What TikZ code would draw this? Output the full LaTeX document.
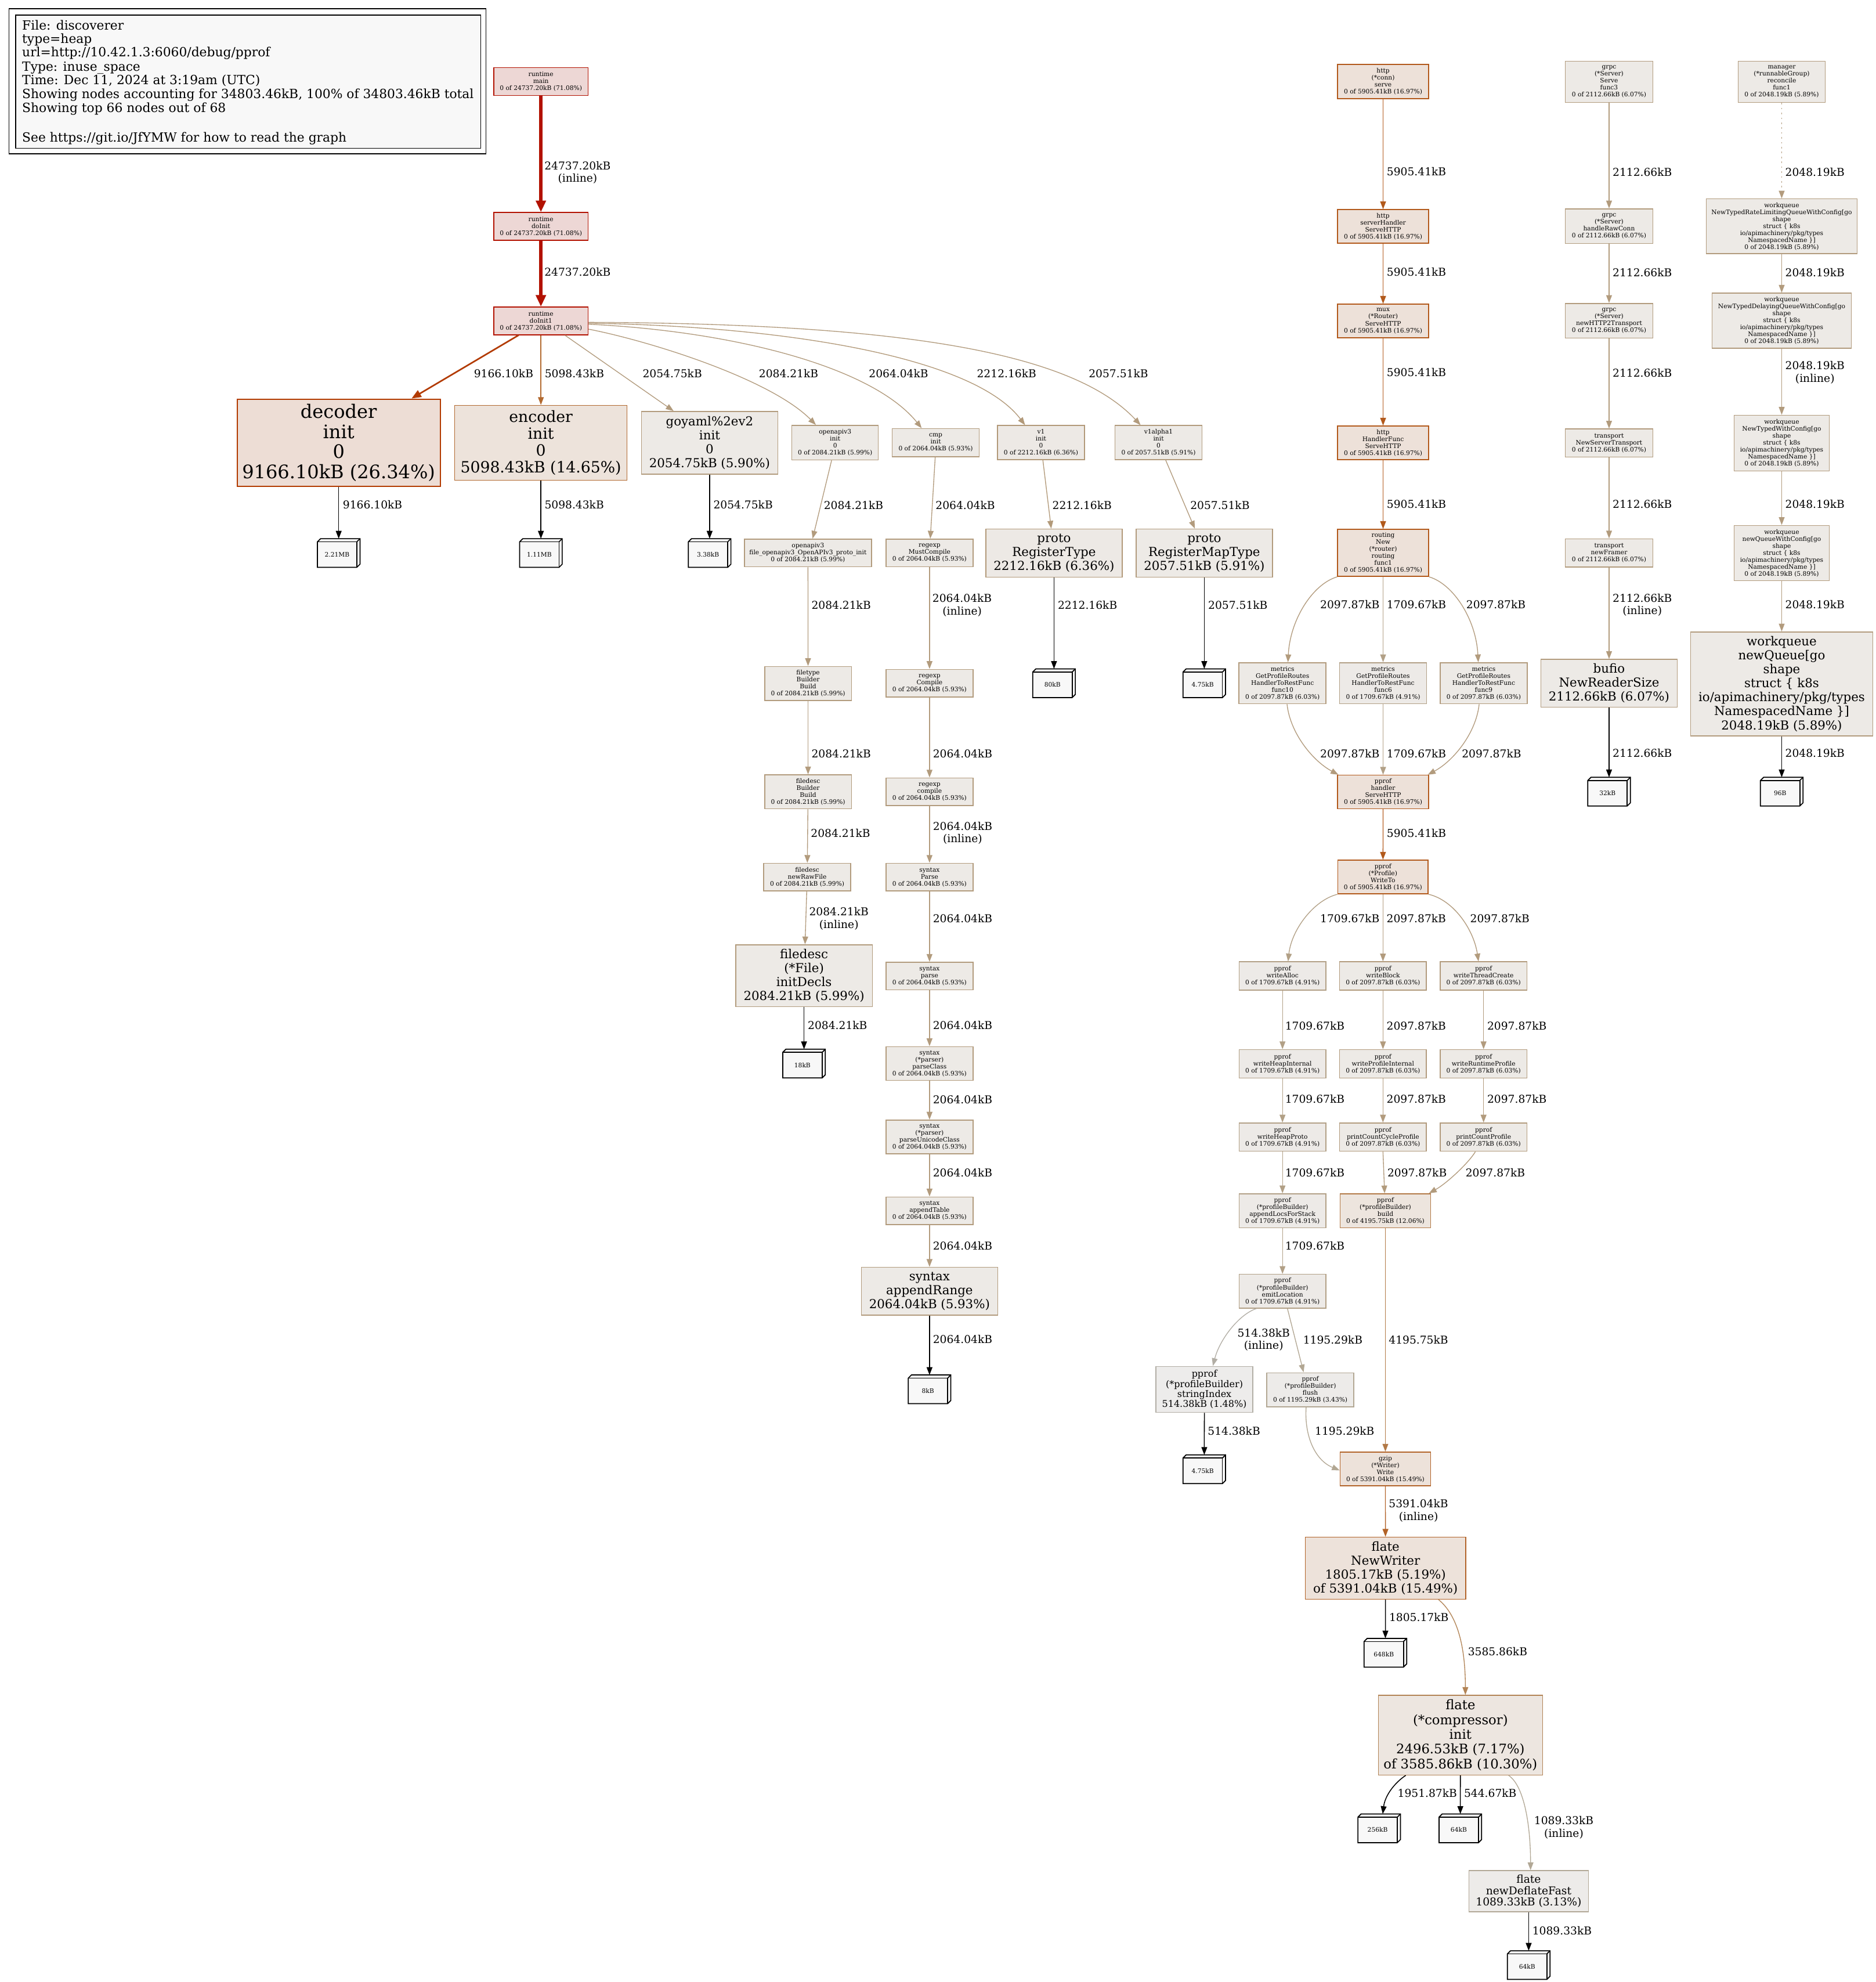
\documentclass[tikz,border=0pt]{standalone}
\usepackage{fontspec}
\setmainfont{DejaVu Serif}
\usetikzlibrary{arrows.meta,calc}
\definecolor{rtfill}{HTML}{EDD7D5}\definecolor{rtline}{HTML}{B21100}
\definecolor{dcfill}{HTML}{EDDDD5}\definecolor{dcline}{HTML}{B23A00}
\definecolor{ecfill}{HTML}{EDE3DB}\definecolor{ecline}{HTML}{B2692F}
\definecolor{sxfill}{HTML}{EDEAE6}\definecolor{sxline}{HTML}{B29B7D}
\definecolor{vofill}{HTML}{EDE9E5}\definecolor{voline}{HTML}{B29979}
\definecolor{hpfill}{HTML}{EDEAE7}\definecolor{hpline}{HTML}{B2A086}
\definecolor{flfill}{HTML}{EDEBE9}\definecolor{flline}{HTML}{B2A793}
\definecolor{dffill}{HTML}{EDEBE9}\definecolor{dfline}{HTML}{B2A896}
\definecolor{sifill}{HTML}{EDECEB}\definecolor{siline}{HTML}{B2AEA5}
\definecolor{htfill}{HTML}{EDE1D9}\definecolor{htline}{HTML}{B2591B}
\definecolor{gzfill}{HTML}{EDE2DA}\definecolor{gzline}{HTML}{B26328}
\definecolor{bdfill}{HTML}{EDE5DE}\definecolor{bdline}{HTML}{B27946}
\definecolor{cpfill}{HTML}{EDE6E0}\definecolor{cpline}{HTML}{B28456}
\definecolor{cubefill}{HTML}{F8F8F8}
\definecolor{legfill}{HTML}{F8F8F8}
\tikzset{
  gnode/.style={rectangle, draw, line width=0.4pt, inner sep=0pt, align=center},
  sz/.style 2 args={minimum width=#1*0.02cm, minimum height=#2*0.02cm},
  rt/.style={gnode, fill=rtfill, draw=rtline},
  dc/.style={gnode, fill=dcfill, draw=dcline, line width=0.55pt},
  ec/.style={gnode, fill=ecfill, draw=ecline},
  sx/.style={gnode, fill=sxfill, draw=sxline},
  vo/.style={gnode, fill=vofill, draw=voline},
  hp/.style={gnode, fill=hpfill, draw=hpline},
  fl/.style={gnode, fill=flfill, draw=flline},
  df/.style={gnode, fill=dffill, draw=dfline},
  si/.style={gnode, fill=sifill, draw=siline},
  ht/.style={gnode, fill=htfill, draw=htline},
  gz/.style={gnode, fill=gzfill, draw=gzline},
  bd/.style={gnode, fill=bdfill, draw=bdline},
  cp/.style={gnode, fill=cpfill, draw=cpline},
  sm/.style={font=\fontsize{2.79}{3.14}\selectfont},
  fA/.style={font=\fontsize{8.37}{9.0}\selectfont},
  fB/.style={font=\fontsize{6.97}{7.57}\selectfont},
  fC/.style={font=\fontsize{5.93}{6.62}\selectfont},
  fD/.style={font=\fontsize{5.58}{6.3}\selectfont},
  fE/.style={font=\fontsize{4.88}{5.09}\selectfont},
  fF/.style={font=\fontsize{4.18}{4.53}\selectfont},
  elab/.style={font=\fontsize{4.88}{5.66}\selectfont, align=center, inner sep=0pt},
  lgd/.style={font=\fontsize{5.7}{6.34}\selectfont, inner sep=0pt, anchor=base west},
  lgbox/.style={rectangle, draw=black, line width=0.35pt, inner sep=0pt},
  edg/.style={draw=#1, line width=0.35pt, -{Triangle[length=3.5pt,width=2.6pt]}},
  leaf/.style={draw=black, line width=0.4pt, -{Triangle[length=3.5pt,width=2.6pt]}},
  cubebb/.style={rectangle, inner sep=0pt, minimum width=0.66cm, minimum height=0.44cm},
  cubeline/.style={draw=black, line width=0.45pt, fill=cubefill},
  cubetext/.style={font=\fontsize{2.79}{3.14}\selectfont, inner sep=0pt},
}
\newcommand\cubenode[4]{%
  \node[cubebb] (#1) at (#2,#3) {};
  \filldraw[cubeline] ($(#1.north west)+(0,2.5)$) -- ($(#1.north west)+(2.5,0)$) -- (#1.north east) -- ($(#1.south east)+(0,-2.5)$) -- ($(#1.south east)+(-2.5,0)$) -- (#1.south west) -- cycle;
  \draw[cubeline, fill=none] ($(#1.north west)+(0,2.5)$) -- ($(#1.north east)+(-2.5,2.5)$) -- ($(#1.south east)+(-2.5,0)$);
  \draw[cubeline, fill=none] ($(#1.north east)+(-2.5,2.5)$) -- (#1.north east);
  \node[cubetext] (#1t) at ($(#1.center)+(-1.25,1.25)$) {#4};
}
\begin{document}
\begin{tikzpicture}[x=0.02cm,y=-0.02cm]
\useasboundingbox (0,0) rectangle (1484,1568);
\fill[white] (0,0) rectangle (1484,1568);
% legend
\node[lgbox, sz={377.4}{114.8}] (legendouter) at (195.7,64.3) {};
\node[lgbox, fill=legfill, sz={367.9}{105.5}] (legend) at (196.35,64.65) {};
\node[lgd] (lg1) at (17.2,23.5) {File: discoverer};
\node[lgd] (lg2) at (17.2,34.2) {type=heap};
\node[lgd] (lg3) at (17.2,44.9) {url=http://10.42.1.3:6060/debug/pprof};
\node[lgd] (lg4) at (17.2,56.1) {Type: inuse\_space};
\node[lgd] (lg5) at (17.2,66.8) {Time: Dec 11, 2024 at 3:19am (UTC)};
\node[lgd] (lg6) at (17.2,77.9) {Showing nodes accounting for 34803.46kB, 100\% of 34803.46kB total};
\node[lgd] (lg7) at (17.2,88.9) {Showing top 66 nodes out of 68};
\node[lgd] (lg8) at (17.2,112.3) {See https://git.io/JfYMW for how to read the graph};

% runtime + init row
\node[rt, sm, sz={74.7}{21.9}] (rmain) at (428,64.5) {runtime\\main\\0 of 24737.20kB (71.08\%)};
\node[rt, sm, sz={74.7}{21.9}] (rdoinit) at (428,179.1) {runtime\\doInit\\0 of 24737.20kB (71.08\%)};
\node[rt, sm, sz={74.7}{21.9}] (rdoinit1) at (428,253.9) {runtime\\doInit1\\0 of 24737.20kB (71.08\%)};
\node[dc, fA, sz={160.7}{69}] (decoder) at (268,350.2) {decoder\\init\\0\\9166.10kB (26.34\%)};
\node[ec, fB, sz={136.4}{59.2}] (encoder) at (428,350.3) {encoder\\init\\0\\5098.43kB (14.65\%)};
\node[sx, fD, sz={107.9}{49.6}] (goyaml) at (561.5,350.3) {goyaml\%2ev2\\init\\0\\2054.75kB (5.90\%)};
\node[sx, sm, sz={68.4}{27.4}] (openapiinit) at (660.8,350.2) {openapiv3\\init\\0\\0 of 2084.21kB (5.99\%)};
\node[sx, sm, sz={68.9}{22.2}] (cmpinit) at (740.4,350.2) {cmp\\init\\0 of 2064.04kB (5.93\%)};
\node[vo, sm, sz={68.7}{27.1}] (v1init) at (823.7,350.2) {v1\\init\\0\\0 of 2212.16kB (6.36\%)};
\node[sx, sm, sz={68.9}{27.1}] (v1a1init) at (916.7,350.2) {v1alpha1\\init\\0\\0 of 2057.51kB (5.91\%)};
\cubenode{c221}{268}{437.5}{2.21MB}
\cubenode{c111}{428}{437.5}{1.11MB}
\cubenode{c338}{561.5}{437.5}{3.38kB}
\node[sx, sm, sz={100.6}{21.9}] (fileoapi) at (639.3,437.4) {openapiv3\\file\_openapiv3\_OpenAPIv3\_proto\_init\\0 of 2084.21kB (5.99\%)};
\node[sx, sm, sz={68.9}{21.9}] (mustcompile) at (735.5,437.4) {regexp\\MustCompile\\0 of 2064.04kB (5.93\%)};
\node[vo, fD, sz={107.9}{38.1}] (regtype) at (834,437.6) {proto\\RegisterType\\2212.16kB (6.36\%)};
\node[sx, fD, sz={108}{38.1}] (regmap) at (952.9,437.6) {proto\\RegisterMapType\\2057.51kB (5.91\%)};
\cubenode{c80}{834}{540.5}{80kB}
\cubenode{c475a}{952.9}{540.5}{4.75kB}
\node[sx, sm, sz={68.6}{26.9}] (filetype) at (639.4,540.7) {filetype\\Builder\\Build\\0 of 2084.21kB (5.99\%)};
\node[sx, sm, sz={68.9}{21.9}] (compile) at (735.5,540.5) {regexp\\Compile\\0 of 2064.04kB (5.93\%)};
\node[sx, sm, sz={68.6}{26.9}] (fdbuild) at (639.4,626.4) {filedesc\\Builder\\Build\\0 of 2084.21kB (5.99\%)};
\node[sx, sm, sz={68.9}{21.9}] (compilel) at (735.5,626.4) {regexp\\compile\\0 of 2064.04kB (5.93\%)};
\node[sx, sm, sz={68.7}{21.9}] (rawfile) at (638.7,693.9) {filedesc\\newRawFile\\0 of 2084.21kB (5.99\%)};
\node[sx, sm, sz={68.9}{21.9}] (sparse) at (735.5,693.9) {syntax\\Parse\\0 of 2064.04kB (5.93\%)};
\node[sx, fD, sz={108.1}{49}] (initdecls) at (636.2,771.9) {filedesc\\(*File)\\initDecls\\2084.21kB (5.99\%)};
\node[sx, sm, sz={68.9}{21.9}] (sparsel) at (735.5,772.2) {syntax\\parse\\0 of 2064.04kB (5.93\%)};
\cubenode{c18}{636.2}{841.4}{18kB}
\node[sx, sm, sz={68.9}{26.8}] (parseclass) at (735.5,841.4) {syntax\\(*parser)\\parseClass\\0 of 2064.04kB (5.93\%)};
\node[sx, sm, sz={68.9}{26.8}] (parseuni) at (735.5,899.5) {syntax\\(*parser)\\parseUnicodeClass\\0 of 2064.04kB (5.93\%)};
\node[sx, sm, sz={68.9}{21.8}] (appendtable) at (735.5,957.8) {syntax\\appendTable\\0 of 2064.04kB (5.93\%)};
\node[sx, fD, sz={107.9}{37.8}] (appendrange) at (735.5,1021.5) {syntax\\appendRange\\2064.04kB (5.93\%)};
\cubenode{c8}{735.5}{1099.1}{8kB}

% http column
\node[ht, sm, sz={72}{27}] (conn) at (1094.4,64.5) {http\\(*conn)\\serve\\0 of 5905.41kB (16.97\%)};
\node[ht, sm, sz={72}{26.5}] (srvhandler) at (1094.4,179.1) {http\\serverHandler\\ServeHTTP\\0 of 5905.41kB (16.97\%)};
\node[ht, sm, sz={72}{26.5}] (mux) at (1094.4,253.9) {mux\\(*Router)\\ServeHTTP\\0 of 5905.41kB (16.97\%)};
\node[ht, sm, sz={72}{26.5}] (handlerfunc) at (1094.4,350.3) {http\\HandlerFunc\\ServeHTTP\\0 of 5905.41kB (16.97\%)};
\node[ht, sm, sz={72}{37.2}] (routing) at (1094.4,437.4) {routing\\New\\(*router)\\routing\\func1\\0 of 5905.41kB (16.97\%)};
\node[sx, sm, sz={68.9}{32.5}] (func10) at (1014.8,540.5) {metrics\\GetProfileRoutes\\HandlerToRestFunc\\func10\\0 of 2097.87kB (6.03\%)};
\node[hp, sm, sz={68.9}{32.5}] (func6) at (1094.4,540.5) {metrics\\GetProfileRoutes\\HandlerToRestFunc\\func6\\0 of 1709.67kB (4.91\%)};
\node[sx, sm, sz={68.9}{32.5}] (func9) at (1174,540.5) {metrics\\GetProfileRoutes\\HandlerToRestFunc\\func9\\0 of 2097.87kB (6.03\%)};
\node[ht, sm, sz={72}{26.5}] (handler) at (1094.4,626.5) {pprof\\handler\\ServeHTTP\\0 of 5905.41kB (16.97\%)};
\node[ht, sm, sz={71.5}{26.7}] (writeto) at (1094.3,693.8) {pprof\\(*Profile)\\WriteTo\\0 of 5905.41kB (16.97\%)};
\node[hp, sm, sz={68.7}{22.4}] (writealloc) at (1014.8,772.1) {pprof\\writeAlloc\\0 of 1709.67kB (4.91\%)};
\node[sx, sm, sz={68.7}{22.4}] (writeblock) at (1094.3,772.1) {pprof\\writeBlock\\0 of 2097.87kB (6.03\%)};
\node[sx, sm, sz={68.7}{22.4}] (writethread) at (1173.9,772.1) {pprof\\writeThreadCreate\\0 of 2097.87kB (6.03\%)};
\node[hp, sm, sz={68.7}{22.4}] (heapinternal) at (1014.8,841.6) {pprof\\writeHeapInternal\\0 of 1709.67kB (4.91\%)};
\node[sx, sm, sz={68.7}{22.4}] (profinternal) at (1094.3,841.6) {pprof\\writeProfileInternal\\0 of 2097.87kB (6.03\%)};
\node[sx, sm, sz={68.7}{22.4}] (runtimeprof) at (1173.9,841.6) {pprof\\writeRuntimeProfile\\0 of 2097.87kB (6.03\%)};
\node[hp, sm, sz={68.7}{22.4}] (heapproto) at (1014.8,899.6) {pprof\\writeHeapProto\\0 of 1709.67kB (4.91\%)};
\node[sx, sm, sz={68.7}{22.4}] (cycleprof) at (1094.3,899.6) {pprof\\printCountCycleProfile\\0 of 2097.87kB (6.03\%)};
\node[sx, sm, sz={68.7}{22.4}] (countprof) at (1173.9,899.6) {pprof\\printCountProfile\\0 of 2097.87kB (6.03\%)};
\node[hp, sm, sz={68.7}{27}] (appendlocs) at (1014.8,957.9) {pprof\\(*profileBuilder)\\appendLocsForStack\\0 of 1709.67kB (4.91\%)};
\node[bd, sm, sz={71.6}{27}] (build) at (1096.2,957.9) {pprof\\(*profileBuilder)\\build\\0 of 4195.75kB (12.06\%)};
\node[hp, sm, sz={68.7}{26.7}] (emitloc) at (1014.8,1021.5) {pprof\\(*profileBuilder)\\emitLocation\\0 of 1709.67kB (4.91\%)};
\node[si, fF, sz={76.7}{36.4}] (stringindex) at (953,1099.2) {pprof\\(*profileBuilder)\\stringIndex\\514.38kB (1.48\%)};
\node[fl, sm, sz={68.9}{27}] (flush) at (1036.8,1099.5) {pprof\\(*profileBuilder)\\flush\\0 of 1195.29kB (3.43\%)};
\cubenode{c475b}{952.9}{1162.3}{4.75kB}
\node[gz, sm, sz={71.6}{26.7}] (gzipw) at (1096.2,1162.1) {gzip\\(*Writer)\\Write\\0 of 5391.04kB (15.49\%)};
\node[gz, fD, sz={126.8}{49}] (newwriter) at (1096.3,1240.6) {flate\\NewWriter\\1805.17kB (5.19\%)\\of 5391.04kB (15.49\%)};
\cubenode{c648}{1096.2}{1307.5}{648kB}
\node[cp, fC, sz={130}{63}] (compressor) at (1155.6,1372.7) {flate\\(*compressor)\\init\\2496.53kB (7.17\%)\\of 3585.86kB (10.30\%)};
\cubenode{c256}{1091.3}{1446.4}{256kB}
\cubenode{c64a}{1155.5}{1446.4}{64kB}
\node[df, fE, sz={94.6}{32.5}] (deflatefast) at (1209.6,1496.1) {flate\\newDeflateFast\\1089.33kB (3.13\%)};
\cubenode{c64b}{1209.6}{1554.6}{64kB}

% grpc column
\node[sx, sm, sz={69.2}{32.7}] (grpcserve) at (1273.2,64.7) {grpc\\(*Server)\\Serve\\func3\\0 of 2112.66kB (6.07\%)};
\node[sx, sm, sz={69.2}{27.3}] (rawconn) at (1273.2,178.9) {grpc\\(*Server)\\handleRawConn\\0 of 2112.66kB (6.07\%)};
\node[sx, sm, sz={69.2}{27.3}] (http2) at (1273.2,253.7) {grpc\\(*Server)\\newHTTP2Transport\\0 of 2112.66kB (6.07\%)};
\node[sx, sm, sz={69.2}{22.2}] (srvtransport) at (1273.2,350.5) {transport\\NewServerTransport\\0 of 2112.66kB (6.07\%)};
\node[sx, sm, sz={69.2}{22.2}] (framer) at (1273.2,437.4) {transport\\newFramer\\0 of 2112.66kB (6.07\%)};
\node[sx, fD, sz={108}{37.8}] (bufio) at (1273.2,540.6) {bufio\\NewReaderSize\\2112.66kB (6.07\%)};
\cubenode{c32}{1273.2}{626.3}{32kB}

% workqueue column
\node[sx, sm, sz={69}{32.7}] (manager) at (1409.8,64.7) {manager\\(*runnableGroup)\\reconcile\\func1\\0 of 2048.19kB (5.89\%)};
\node[sx, sm, sz={119.5}{43.3}] (ratelimit) at (1409.8,179) {workqueue\\NewTypedRateLimitingQueueWithConfig[go\\shape\\struct \{ k8s\\io/apimachinery/pkg/types\\NamespacedName \}]\\0 of 2048.19kB (5.89\%)};
\node[sx, sm, sz={110.3}{43.6}] (delaying) at (1409.8,253.7) {workqueue\\NewTypedDelayingQueueWithConfig[go\\shape\\struct \{ k8s\\io/apimachinery/pkg/types\\NamespacedName \}]\\0 of 2048.19kB (5.89\%)};
\node[sx, sm, sz={75.3}{44.1}] (typedcfg) at (1409.8,350.5) {workqueue\\NewTypedWithConfig[go\\shape\\struct \{ k8s\\io/apimachinery/pkg/types\\NamespacedName \}]\\0 of 2048.19kB (5.89\%)};
\node[sx, sm, sz={75.3}{43.7}] (newqcfg) at (1409.8,437.5) {workqueue\\newQueueWithConfig[go\\shape\\struct \{ k8s\\io/apimachinery/pkg/types\\NamespacedName \}]\\0 of 2048.19kB (5.89\%)};
\node[sx, fD, sz={144}{82.2}] (newqueue) at (1409.8,541) {workqueue\\newQueue[go\\shape\\struct \{ k8s\\io/apimachinery/pkg/types\\NamespacedName \}]\\2048.19kB (5.89\%)};
\cubenode{c96}{1409.8}{626.3}{96B}

% ---- edges ----
\draw[edg=rtline, line width=1.4pt, -{Triangle[length=5.2pt,width=4.4pt]}] (rmain) -- (rdoinit);
\draw[edg=rtline, line width=1.4pt, -{Triangle[length=5.2pt,width=4.4pt]}] (rdoinit) -- (rdoinit1);
\draw[edg=dcline, line width=0.7pt, -{Triangle[length=4.3pt,width=3.4pt]}] ($(rdoinit1.south)+(-17.7,0)$) -- ($(decoder.north)+(57.7,0)$);
\draw[edg=ecline] (rdoinit1) -- (encoder);
\draw[edg=sxline] ($(rdoinit1.south)+(19,0)$) -- ($(goyaml.north)+(-28.5,0)$);
\draw[edg=sxline] ($(rdoinit1.east)+(0,6.5)$) .. controls (515,270) and (610,300) .. ($(openapiinit.north)+(-15.2,0)$);
\draw[edg=sxline] ($(rdoinit1.east)+(0,2.6)$) .. controls (580,262) and (690,290) .. ($(cmpinit.north)+(-11.1,0)$);
\draw[edg=voline] ($(rdoinit1.east)+(0,1.8)$) .. controls (620,258) and (770,282) .. ($(v1init.north)+(-12.6,0)$);
\draw[edg=sxline] ($(rdoinit1.east)+(0,1.1)$) .. controls (720,256) and (850,280) .. ($(v1a1init.north)+(-14.2,0)$);
\draw[leaf] (decoder) -- (c221);
\draw[leaf] (encoder) -- (c111);
\draw[leaf] (goyaml) -- (c338);
\draw[edg=sxline] ($(openapiinit.south)+(-2.8,0)$) -- ($(fileoapi.north)+(3.7,0)$);
\draw[edg=sxline] ($(cmpinit.south)+(-0.4,0)$) -- ($(mustcompile.north)+(0.6,0)$);
\draw[edg=voline] ($(v1init.south)+(1.5,0)$) -- ($(regtype.north)+(-2.2,0)$);
\draw[edg=sxline] ($(v1a1init.south)+(5.7,0)$) -- ($(regmap.north)+(-7.5,0)$);
\draw[leaf] (regtype) -- (c80);
\draw[leaf] (regmap) -- (c475a);
\draw[edg=sxline] (fileoapi) -- (filetype);
\draw[edg=sxline] (filetype) -- (fdbuild);
\draw[edg=sxline] (fdbuild) -- (rawfile);
\draw[edg=sxline] (rawfile) -- (initdecls);
\draw[leaf] (initdecls) -- (c18);
\draw[edg=sxline] (mustcompile) -- (compile);
\draw[edg=sxline] (compile) -- (compilel);
\draw[edg=sxline] (compilel) -- (sparse);
\draw[edg=sxline] (sparse) -- (sparsel);
\draw[edg=sxline] (sparsel) -- (parseclass);
\draw[edg=sxline] (parseclass) -- (parseuni);
\draw[edg=sxline] (parseuni) -- (appendtable);
\draw[edg=sxline] (appendtable) -- (appendrange);
\draw[leaf] (appendrange) -- (c8);

\draw[edg=htline] (conn) -- (srvhandler);
\draw[edg=htline] (srvhandler) -- (mux);
\draw[edg=htline] (mux) -- (handlerfunc);
\draw[edg=htline] (handlerfunc) -- (routing);
\draw[edg=sxline] (routing.south west) .. controls (1038.8,462) and (1020.8,490) .. ($(func10.north)+(4.3,0)$);
\draw[edg=hpline] (routing) -- (func6);
\draw[edg=sxline] (routing.south east) .. controls (1150,462) and (1168,490) .. ($(func9.north)+(-4.3,0)$);
\draw[edg=sxline] ($(func10.south)+(3.6,0)$) .. controls (1020.8,580) and (1038.8,602) .. ($(handler.north west)+(1,0)$);
\draw[edg=hpline] (func6) -- (handler);
\draw[edg=sxline] ($(func9.south)+(-3.6,0)$) .. controls (1168,580) and (1150,602) .. ($(handler.north east)+(-1,0)$);
\draw[edg=htline] (handler) -- (writeto);
\draw[edg=hpline] (writeto.south west) .. controls (1040,712) and (1022,735) .. ($(writealloc.north)+(4.4,0)$);
\draw[edg=sxline] (writeto) -- (writeblock);
\draw[edg=sxline] (writeto.south east) .. controls (1150,712) and (1166,735) .. ($(writethread.north)+(-4,0)$);
\draw[edg=hpline] (writealloc) -- (heapinternal);
\draw[edg=hpline] (heapinternal) -- (heapproto);
\draw[edg=hpline] (heapproto) -- (appendlocs);
\draw[edg=hpline] (appendlocs) -- (emitloc);
\draw[edg=sxline] (writeblock) -- (profinternal);
\draw[edg=sxline] (profinternal) -- (cycleprof);
\draw[edg=sxline] (cycleprof.south) -- ($(build.north)+(-0.6,0)$);
\draw[edg=sxline] (writethread) -- (runtimeprof);
\draw[edg=sxline] (runtimeprof) -- (countprof);
\draw[edg=sxline] ($(countprof.south)+(-6.5,0)$) .. controls (1162,920) and (1145,936) .. ($(build.north east)+(-1.7,0)$);
\draw[edg=bdline] (build) -- (gzipw);
\draw[edg=siline] ($(emitloc.south)+(-20.6,0)$) .. controls (980,1040) and (965,1060) .. ($(stringindex.north)+(6.7,0)$);
\draw[edg=flline] ($(emitloc.south)+(3.9,0)$) -- ($(flush.north)+(-5.3,0)$);
\draw[edg=flline] ($(flush.south)+(-3.3,0)$) .. controls (1032,1135) and (1040,1155) .. ($(gzipw.west)+(0,1.1)$);
\draw[leaf] (stringindex) -- (c475b);
\draw[edg=gzline] (gzipw) -- (newwriter);
\draw[leaf] (newwriter) -- (c648);
\draw[edg=cpline] ($(newwriter.south)+(41.9,0)$) .. controls (1150,1275) and (1159.5,1295) .. ($(compressor.north)+(3.9,0)$);
\draw[leaf] ($(compressor.south)+(-43.3,0)$) .. controls (1104,1410) and (1096,1420) .. ($(c256.north)+(2.8,0)$);
\draw[leaf] (compressor) -- (c64a);
\draw[edg=dfline] ($(compressor.south)+(38.1,0)$) .. controls (1205,1412) and (1211,1440) .. ($(deflatefast.north)+(1.5,0)$);
\draw[leaf] (deflatefast) -- (c64b);

\draw[edg=sxline] (grpcserve) -- (rawconn);
\draw[edg=sxline] (rawconn) -- (http2);
\draw[edg=sxline] (http2) -- (srvtransport);
\draw[edg=sxline] (srvtransport) -- (framer);
\draw[edg=sxline] (framer) -- (bufio);
\draw[leaf] (bufio) -- (c32);

\draw[edg=sxline, line width=0.45pt, dash pattern=on 0.7pt off 1.5pt] (manager) -- (ratelimit);
\draw[edg=sxline] (ratelimit) -- (delaying);
\draw[edg=sxline] (delaying) -- (typedcfg);
\draw[edg=sxline] (typedcfg) -- (newqcfg);
\draw[edg=sxline] (newqcfg) -- (newqueue);
\draw[leaf] (newqueue) -- (c96);

% ---- edge labels ----
\node[elab] (lA) at (457,136.6) {24737.20kB\\(inline)};
\node[elab] (lB) at (457,215) {24737.20kB};
\node[elab] (lC) at (398.5,295.5) {9166.10kB};
\node[elab] (lD) at (454.5,295.5) {5098.43kB};
\node[elab] (lE) at (532,295.5) {2054.75kB};
\node[elab] (lF) at (624,295.5) {2084.21kB};
\node[elab] (lG) at (711,295.5) {2064.04kB};
\node[elab] (lH) at (796.5,295.5) {2212.16kB};
\node[elab] (lI) at (885,295.5) {2057.51kB};
\node[elab] (lJ) at (294.8,399.3) {9166.10kB};
\node[elab] (lK) at (454.4,399.3) {5098.43kB};
\node[elab] (lL) at (588,399.3) {2054.75kB};
\node[elab] (lM) at (675.4,399.6) {2084.21kB};
\node[elab] (lN) at (763.8,399.6) {2064.04kB};
\node[elab] (lO) at (856.2,399.6) {2212.16kB};
\node[elab] (lP) at (965.3,399.6) {2057.51kB};
\node[elab] (lQ) at (860.5,478.6) {2212.16kB};
\node[elab] (lR) at (979.5,478.6) {2057.51kB};
\node[elab] (lS) at (665.6,478.8) {2084.21kB};
\node[elab] (lT) at (761.3,478.9) {2064.04kB\\(inline)};
\node[elab] (lU) at (665.6,596.3) {2084.21kB};
\node[elab] (lV) at (761.7,596.3) {2064.04kB};
\node[elab] (lW) at (665.1,659.2) {2084.21kB};
\node[elab] (lX) at (761.7,659.1) {2064.04kB\\(inline)};
\node[elab] (lY) at (663.8,726.8) {2084.21kB\\(inline)};
\node[elab] (lZ) at (761.7,726.4) {2064.04kB};
\node[elab] (la) at (662.7,811.3) {2084.21kB};
\node[elab] (lb) at (761.7,811.3) {2064.04kB};
\node[elab] (lc) at (761.7,869.7) {2064.04kB};
\node[elab] (ld) at (761.7,927.8) {2064.04kB};
\node[elab] (le) at (761.7,985.8) {2064.04kB};
\node[elab] (lf) at (761.7,1059.6) {2064.04kB};
\node[elab] (lg) at (1120.8,135.8) {5905.41kB};
\node[elab] (lh) at (1120.8,215.1) {5905.41kB};
\node[elab] (li) at (1120.8,294.4) {5905.41kB};
\node[elab] (lj) at (1120.8,399) {5905.41kB};
\node[elab] (lk) at (1068.1,478.3) {2097.87kB};
\node[elab] (ll) at (1120.8,478.3) {1709.67kB};
\node[elab] (lm) at (1183.7,478.3) {2097.87kB};
\node[elab] (ln) at (1068.1,596) {2097.87kB};
\node[elab] (lo) at (1120.8,596) {1709.67kB};
\node[elab] (lp) at (1180.2,596) {2097.87kB};
\node[elab] (lq) at (1120.8,659.2) {5905.41kB};
\node[elab] (lr) at (1068.1,726.5) {1709.67kB};
\node[elab] (ls) at (1120.7,726.5) {2097.87kB};
\node[elab] (lt) at (1186.8,726.5) {2097.87kB};
\node[elab] (lu) at (1040.4,811.4) {1709.67kB};
\node[elab] (lv) at (1120.7,811.4) {2097.87kB};
\node[elab] (lw) at (1200.3,811.4) {2097.87kB};
\node[elab] (lx) at (1040.4,869.5) {1709.67kB};
\node[elab] (ly) at (1120.7,869.5) {2097.87kB};
\node[elab] (lz) at (1200.3,869.5) {2097.87kB};
\node[elab] (m1) at (1040.4,927.6) {1709.67kB};
\node[elab] (m2) at (1121.3,927.6) {2097.87kB};
\node[elab] (m3) at (1183.2,927.6) {2097.87kB};
\node[elab] (m4) at (1040.4,985.8) {1709.67kB};
\node[elab] (m5) at (999.9,1059.9) {514.38kB\\(inline)};
\node[elab] (m6) at (1054.6,1059.9) {1195.29kB};
\node[elab] (m7) at (1122.4,1059.9) {4195.75kB};
\node[elab] (m8) at (976.4,1132) {514.38kB};
\node[elab] (m9) at (1064,1132) {1195.29kB};
\node[elab] (m10) at (1122.4,1195) {5391.04kB\\(inline)};
\node[elab] (m11) at (1122.7,1279.6) {1805.17kB};
\node[elab] (m12) at (1185,1306.4) {3585.86kB};
\node[elab] (m13) at (1129.4,1418.6) {1951.87kB};
\node[elab] (m14) at (1179.2,1418.6) {544.67kB};
\node[elab] (m15) at (1237.4,1445.8) {1089.33kB\\(inline)};
\node[elab] (m16) at (1236,1527.2) {1089.33kB};
\node[elab] (m17) at (1299.5,136) {2112.66kB};
\node[elab] (m18) at (1299.5,215.5) {2112.66kB};
\node[elab] (m19) at (1299.5,295) {2112.66kB};
\node[elab] (m20) at (1299.5,399) {2112.66kB};
\node[elab] (m21) at (1299.5,478.6) {2112.66kB\\(inline)};
\node[elab] (m22) at (1299.5,595.7) {2112.66kB};
\node[elab] (m23) at (1436.1,136) {2048.19kB};
\node[elab] (m24) at (1436.1,215.5) {2048.19kB};
\node[elab] (m25) at (1436.1,294.7) {2048.19kB\\(inline)};
\node[elab] (m26) at (1436.1,399) {2048.19kB};
\node[elab] (m27) at (1436.1,478.4) {2048.19kB};
\node[elab] (m28) at (1436.1,595.7) {2048.19kB};
\end{tikzpicture}
\end{document}
